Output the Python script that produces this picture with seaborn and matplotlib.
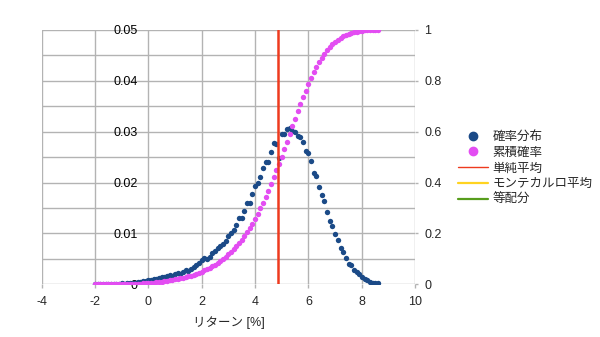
import matplotlib
matplotlib.use("Agg")
import matplotlib.pyplot as plt
from matplotlib.lines import Line2D
from matplotlib.ticker import MultipleLocator, FuncFormatter
import pandas as pd
import seaborn as sns

# Return bins [%]
returns = [
    -2.0, -1.9, -1.8, -1.7, -1.6, -1.5, -1.4, -1.3, -1.2, -1.1,
    -1.0, -0.9, -0.8, -0.7, -0.6, -0.5, -0.4, -0.3, -0.2, -0.1,
    0.0, 0.1, 0.2, 0.3, 0.4, 0.5, 0.6, 0.7, 0.8, 0.9,
    1.0, 1.1, 1.2, 1.3, 1.4, 1.5, 1.6, 1.7, 1.8, 1.9,
    2.0, 2.1, 2.2, 2.3, 2.4, 2.5, 2.6, 2.7, 2.8, 2.9,
    3.0, 3.1, 3.2, 3.3, 3.4, 3.5, 3.6, 3.7, 3.8, 3.9,
    4.0, 4.1, 4.2, 4.3, 4.4, 4.5, 4.6, 4.7, 4.8, 4.9,
    5.0, 5.1, 5.2, 5.3, 5.4, 5.5, 5.6, 5.7, 5.8, 5.9,
    6.0, 6.1, 6.2, 6.3, 6.4, 6.5, 6.6, 6.7, 6.8, 6.9,
    7.0, 7.1, 7.2, 7.3, 7.4, 7.5, 7.6, 7.7, 7.8, 7.9,
    8.0, 8.1, 8.2, 8.3, 8.4, 8.5, 8.6,
]

# Probability of each bin (確率分布)
prob = [
    0.0001, 0.0000, 0.0001, 0.0000, 0.0001, 0.0001, 0.0000, 0.0001, 0.0001, 0.0001,
    0.0002, 0.0001, 0.0002, 0.0002, 0.0002, 0.0003, 0.0004, 0.0005, 0.0006, 0.0007,
    0.0009, 0.0008, 0.0011, 0.0010, 0.0013, 0.0015, 0.0014, 0.0017, 0.0018, 0.0016,
    0.0020, 0.0022, 0.0021, 0.0025, 0.0028, 0.0027, 0.0031, 0.0034, 0.0038, 0.0042,
    0.0048, 0.0051, 0.0050, 0.0054, 0.0061, 0.0065, 0.0071, 0.0076, 0.0080, 0.0085,
    0.0094, 0.0100, 0.0107, 0.0117, 0.0130, 0.0131, 0.0144, 0.0159, 0.0160, 0.0177,
    0.0193, 0.0199, 0.0210, 0.0228, 0.0240, 0.0241, 0.0260, 0.0277, 0.0275, 0.0249,
    0.0296, 0.0296, 0.0305, 0.0307, 0.0302, 0.0300, 0.0292, 0.0290, 0.0280, 0.0263,
    0.0259, 0.0243, 0.0219, 0.0212, 0.0192, 0.0176, 0.0164, 0.0143, 0.0124, 0.0115,
    0.0098, 0.0087, 0.0071, 0.0063, 0.0052, 0.0040, 0.0038, 0.0028, 0.0024, 0.0020,
    0.0015, 0.0010, 0.0008, 0.0005, 0.0003, 0.0002, 0.0002,
]

# Cumulative probability (累積確率)
cum_prob = [
    0.0001, 0.0001, 0.0002, 0.0002, 0.0003, 0.0004, 0.0004, 0.0005, 0.0006, 0.0007,
    0.0009, 0.0010, 0.0012, 0.0014, 0.0016, 0.0019, 0.0023, 0.0028, 0.0034, 0.0040,
    0.0049, 0.0057, 0.0068, 0.0078, 0.0091, 0.0106, 0.0119, 0.0136, 0.0154, 0.0170,
    0.0189, 0.0211, 0.0232, 0.0257, 0.0284, 0.0311, 0.0341, 0.0375, 0.0412, 0.0454,
    0.0501, 0.0552, 0.0601, 0.0654, 0.0714, 0.0778, 0.0849, 0.0924, 0.1002, 0.1086,
    0.1179, 0.1278, 0.1383, 0.1499, 0.1627, 0.1756, 0.1898, 0.2055, 0.2213, 0.2388,
    0.2578, 0.2775, 0.2982, 0.3207, 0.3443, 0.3681, 0.3938, 0.4211, 0.4482, 0.4728,
    0.5020, 0.5312, 0.5613, 0.5916, 0.6214, 0.6510, 0.6798, 0.7084, 0.7361, 0.7620,
    0.7876, 0.8115, 0.8332, 0.8541, 0.8730, 0.8904, 0.9066, 0.9207, 0.9329, 0.9443,
    0.9539, 0.9625, 0.9695, 0.9757, 0.9809, 0.9848, 0.9886, 0.9913, 0.9937, 0.9957,
    0.9971, 0.9981, 0.9989, 0.9994, 0.9997, 0.9999, 1.0000,
]

simple_mean = 4.85

series_labels = ["確率分布", "累積確率", "単純平均", "モンテカルロ平均", "等配分"]
x_label = "リターン [%]"

BLUE = "#1b4a87"
PINK = "#e34df2"
RED = "#ee3a1e"
YELLOW = "#ffd320"
GREEN = "#579d1c"
GRID = "#b3b3b3"

sns.set_theme(style="white")
plt.rcParams["font.family"] = ["Liberation Sans", "Noto Sans CJK JP"]
plt.rcParams["axes.unicode_minus"] = False

df = pd.DataFrame({"returns": returns, "prob": prob, "cum": cum_prob})

fig = plt.figure(figsize=(6, 3.37), dpi=100)
ax = fig.add_axes([0.0695, 0.1564, 0.6225, 0.7546])
ax2 = ax.twinx()

sns.scatterplot(data=df, x="returns", y="prob", ax=ax, color=BLUE, s=15,
                linewidth=0, legend=False)
sns.scatterplot(data=df, x="returns", y="cum", ax=ax2, color=PINK, s=15,
                linewidth=0, legend=False)
ax2.axvline(simple_mean, color=RED, lw=1.8, zorder=5)

ax.set_xlim(-4, 10)
ax.set_ylim(0, 0.05)
ax2.set_ylim(0, 1)

fmt = FuncFormatter(lambda v, _: f"{v:g}")
ax.xaxis.set_major_locator(MultipleLocator(2))
ax.xaxis.set_major_formatter(fmt)
ax.yaxis.set_major_locator(MultipleLocator(0.01))
ax.yaxis.set_minor_locator(MultipleLocator(0.005))
ax.yaxis.set_major_formatter(fmt)
ax2.yaxis.set_major_locator(MultipleLocator(0.2))
ax2.yaxis.set_major_formatter(fmt)

ax.grid(True, which="both", axis="y", color=GRID, lw=1)
ax.grid(True, which="major", axis="x", color=GRID, lw=1)
ax.set_axisbelow(True)
ax2.grid(False)

for a in (ax, ax2):
    for s in a.spines.values():
        s.set_visible(False)

# primary value axis crosses at x = 0
ax.spines["left"].set_position(("data", 0))
ax.tick_params(axis="y", which="both", length=0, pad=7.5, labelsize=9,
               colors="black")
ax.tick_params(axis="x", length=3, width=1, color=GRID, direction="out",
               pad=5.5, labelsize=9, bottom=True)
ax2.tick_params(axis="y", length=2.2, width=1, color=GRID, direction="out",
                pad=4.5, labelsize=9, right=True)

ax.set_xlabel(x_label, fontsize=9, labelpad=6)
ax.set_ylabel("")
ax2.set_ylabel("")

handles = [
    Line2D([], [], marker="o", ls="", color=BLUE, markersize=6, label=series_labels[0]),
    Line2D([], [], marker="o", ls="", color=PINK, markersize=6, label=series_labels[1]),
    Line2D([], [], color=RED, lw=1.0, label=series_labels[2]),
    Line2D([], [], color=YELLOW, lw=1.6, label=series_labels[3]),
    Line2D([], [], color=GREEN, lw=1.6, label=series_labels[4]),
]
fig.legend(handles=handles, loc="upper left", bbox_to_anchor=(0.763, 0.611),
           frameon=False, fontsize=9, handlelength=2.4, handletextpad=0.4,
           labelspacing=0.3, borderpad=0, borderaxespad=0)

fig.savefig("out.png", dpi=100)
